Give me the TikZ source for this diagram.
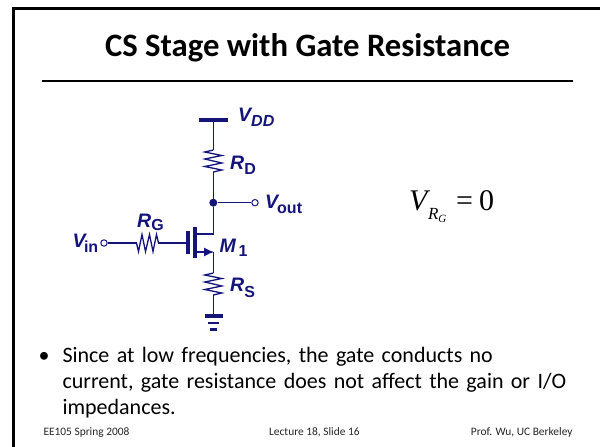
\documentclass[tikz,border=0pt]{standalone}
\usepackage{fontspec}
\setmainfont{Carlito}
\newfontfamily\circfont{Liberation Sans}
\newfontfamily\eqfont{Liberation Serif}
\usetikzlibrary{calc,arrows.meta}
\definecolor{ink}{HTML}{14147A}
\tikzset{
  wire/.style={draw=ink, line width=1.3pt},
  bar/.style={draw=ink, line width=3.6pt},
  midbar/.style={draw=ink, line width=2.8pt},
  frameline/.style={draw=black, line width=2.6pt},
  port/.style={circle, draw=ink, fill=white, line width=1pt, inner sep=0pt, minimum size=6.4pt},
  joint/.style={circle, fill=ink, inner sep=0pt, minimum size=8pt},
  clbl/.style={text=ink, font=\circfont\bfseries\itshape\fontsize{19.5}{20}\selectfont, inner sep=0pt, anchor=base west},
  ttl/.style={text=black, font=\bfseries\fontsize{32.7}{33}\selectfont, inner sep=0pt},
  bodytxt/.style={text=black, font=\fontsize{22}{26}\selectfont, inner sep=0pt, align=left, text width=525pt},
  foot/.style={text=black!85, font=\fontsize{11.4}{12}\selectfont, inner sep=0pt},
  res/.pic={\draw[wire] (0,-11) -- (-8.5,-9) -- (8.5,-5.5) -- (-8.5,-2) -- (8.5,2) -- (-8.5,5.5) -- (8.5,9) -- (0,11);}
}
\newcommand{\subt}[2]{\raisebox{-#1pt}{\fontsize{16}{16}\selectfont\upshape #2}}
\begin{document}
\begin{tikzpicture}[x=1pt,y=-1pt]
  \useasboundingbox (0,0) rectangle (600,447);
  \fill[white] (0,0) rectangle (600,447);

  % slide frame
  \draw[frameline] (600,8.3) -- (13.3,8.3) -- (13.3,447);
  \draw[draw=black, line width=2pt] (41.7,81) -- (573,81);
  \node[ttl, anchor=base] (title) at (307.5,56.7) {CS Stage with Gate Resistance};

  \coordinate (VDD) at (213.3,120);
  \coordinate (RDt) at (213.3,150);
  \coordinate (RDb) at (213.3,172);
  \coordinate (OUT) at (213.3,202.7);
  \coordinate (D) at (213.3,234);
  \coordinate (Dch) at (195,234);
  \coordinate (Sch) at (195,252);
  \coordinate (S) at (214,252);
  \coordinate (RSt) at (213.3,273);
  \coordinate (RSb) at (213.3,295);
  \coordinate (GND) at (213.3,316);
  \coordinate (G) at (187.7,243);
  \coordinate (RGl) at (137,243);
  \coordinate (RGr) at (158,243);

  \node[joint] (nout) at (OUT) {};
  \node[port] (pout) at (255,202.7) {};
  \node[port] (pin) at (104,243) {};

  \draw[wire] (VDD) -- (RDt);
  \pic at ($(RDt)!0.5!(RDb)$) {res};
  \draw[wire] (RDb) -- (nout);
  \draw[wire] (nout) -- (pout);
  \draw[wire] (nout) -- (D) -- (Dch);
  \draw[wire, -{Latex[length=10pt,width=9pt]}] (Sch) -- (S);
  \draw[wire] (213.3,252) -- (RSt);
  \pic at ($(RSt)!0.5!(RSb)$) {res};
  \draw[wire] (RSb) -- (GND);
  \draw[wire] (pin) -- (RGl);
  \pic[rotate=90] at ($(RGl)!0.5!(RGr)$) {res};
  \draw[wire] (RGr) -- (G);

  % supply, mos and ground bars
  \draw[bar] (199,120) -- (227.5,120);
  \draw[bar] (195,227) -- (195,258);
  \draw[bar] (187.7,231) -- (187.7,254);
  \draw[bar] (205,316) -- (223,316);
  \draw[midbar] (208,323) -- (219,323);
  \draw[midbar] (210,329.5) -- (217,329.5);

  \node[clbl] (lvdd) at (238,121.7) {V\raisebox{-5pt}{\fontsize{16}{16}\selectfont DD}};
  \node[clbl] (lrd) at (230,169) {R\subt{5}{D}};
  \node[clbl] (lout) at (265,208) {V\hspace{-1pt}\subt{5}{out}};
  \node[clbl] (lrg) at (137,227.3) {R\subt{3}{G}};
  \node[clbl] (lin) at (72.3,247.3) {V\hspace{-1.5pt}\subt{5}{in}};
  \node[clbl] (lm) at (219.3,252.3) {M\hspace{3pt}\subt{4}{1}};
  \node[clbl] (lrs) at (230,291.7) {R\subt{6}{S}};

  \node[inner sep=0pt, anchor=base west, text=black, font=\eqfont\fontsize{30}{30}\selectfont] (eq) at (409,210)
    {\textit{V}\hspace{-2.3pt}\raisebox{-9pt}{\fontsize{17}{17}\selectfont\textit{R}\raisebox{-3pt}{\fontsize{11}{11}\selectfont\textit{G}}}\hspace{9.7pt}=\hspace{6pt}0};

  \node[text=black, font=\fontsize{22}{26}\selectfont, inner sep=0pt, anchor=base west] (blt) at (38.5,362) {•};
  \node[bodytxt, anchor=north west] (body) at (62.3,347) {Since at low frequencies, the gate conducts no\\current, gate resistance does not affect the gain or I/O\\impedances.};

  \node[foot, anchor=base west] (f1) at (43.3,435) {EE105 Spring 2008};
  \node[foot, anchor=base west] (f2) at (269,435) {Lecture 18, Slide 16};
  \node[foot, anchor=base east] (f3) at (572.7,435) {Prof. Wu, UC Berkeley};
\end{tikzpicture}
\end{document}
